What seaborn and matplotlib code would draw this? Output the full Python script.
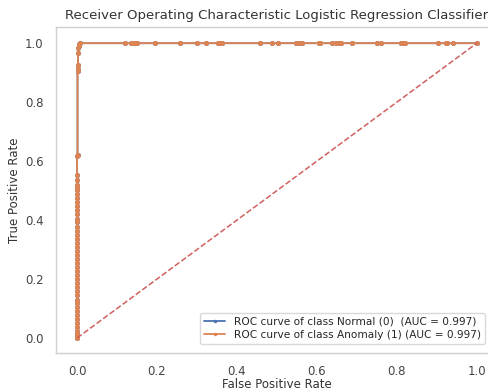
import matplotlib
matplotlib.use("Agg")
import matplotlib.pyplot as plt
import seaborn as sns
import pandas as pd

sns.set_theme(style="whitegrid", color_codes=True)

# ROC points (identical for both classes in this binary problem)
fpr = [0.0, 0.0, 0.0, 0.0, 0.0, 0.0, 0.0, 0.0, 0.0, 0.0,
       0.0, 0.0, 0.0, 0.0, 0.0, 0.0, 0.0, 0.0, 0.0, 0.0,
       0.0, 0.0, 0.0, 0.0, 0.0, 0.0, 0.0, 0.0, 0.0, 0.0,
       0.0, 0.0, 0.0, 0.0, 0.0, 0.0, 0.0, 0.0, 0.0, 0.0,
       0.0, 0.0, 0.0, 0.0,
       0.001, 0.001, 0.001, 0.002, 0.002, 0.003, 0.004, 0.005, 0.006,
       0.120, 0.136, 0.140, 0.145, 0.149, 0.195, 0.257, 0.301, 0.323,
       0.352, 0.357, 0.363, 0.458, 0.488, 0.502, 0.548, 0.556, 0.563,
       0.604, 0.608, 0.638, 0.648, 0.654, 0.660, 0.689, 0.751, 0.760,
       0.810, 0.815, 0.820, 0.903, 0.922, 0.926, 0.940, 1.000]
tpr = [0.000, 0.004, 0.012, 0.025, 0.038, 0.050, 0.063, 0.078, 0.090, 0.104,
       0.118, 0.130, 0.145, 0.160, 0.172, 0.186, 0.200, 0.214, 0.228, 0.241,
       0.255, 0.268, 0.282, 0.296, 0.310, 0.323, 0.337, 0.350, 0.364, 0.378,
       0.392, 0.405, 0.420, 0.434, 0.447, 0.461, 0.474, 0.488, 0.503, 0.512,
       0.520, 0.535, 0.552, 0.618,
       0.620, 0.905, 0.912, 0.926, 0.966, 0.982, 0.990, 0.996, 1.000,
       1.0, 1.0, 1.0, 1.0, 1.0, 1.0, 1.0, 1.0, 1.0,
       1.0, 1.0, 1.0, 1.0, 1.0, 1.0, 1.0, 1.0, 1.0,
       1.0, 1.0, 1.0, 1.0, 1.0, 1.0, 1.0, 1.0, 1.0,
       1.0, 1.0, 1.0, 1.0, 1.0, 1.0, 1.0, 1.0]

class_names = ["Normal (0) ", "Anomaly (1)"]
auc_values = [0.997, 0.997]
chance = [0.0, 1.0]

fig = plt.figure(figsize=(4.88, 3.91), dpi=100)
ax = fig.add_axes([0.115, 0.098, 0.903, 0.833])

palette = sns.color_palette("deep")
for i, (name, auc) in enumerate(zip(class_names, auc_values)):
    df = pd.DataFrame({"fpr": fpr, "tpr": tpr})
    sns.lineplot(data=df, x="fpr", y="tpr", ax=ax, sort=False, estimator=None,
                 marker="o", markersize=3.6, markeredgewidth=0,
                 color=palette[i], linewidth=1.3,
                 label=f"ROC curve of class {name} (AUC = {auc:.3f})")

ax.plot(chance, chance, "--", color="#d0605e", linewidth=1.1)

ax.set_xlim(-0.0525, 1.05)
ax.set_ylim(-0.05, 1.055)
ax.grid(False)
for s in ax.spines.values():
    s.set_color("#d0d0d0")
    s.set_linewidth(1.0)

ax.set_title("Receiver Operating Characteristic Logistic Regression Classifier",
             fontsize=9.5, color="#333333", pad=6)
ax.set_xlabel("False Positive Rate", fontsize=8.5, color="#333333", labelpad=0)
ax.set_ylabel("True Positive Rate", fontsize=8.5, color="#333333", labelpad=3)
ax.tick_params(axis="both", labelsize=8.5, colors="#444444", pad=3)
ax.set_xticks([0.0, 0.2, 0.4, 0.6, 0.8, 1.0])
ax.set_yticks([0.0, 0.2, 0.4, 0.6, 0.8, 1.0])

leg = ax.legend(loc="lower right", fontsize=7.6, frameon=True,
                bbox_to_anchor=(0.985, 0.01), borderpad=0.4, handlelength=2.0,
                labelspacing=0.3)
for line in leg.get_lines():
    line.set_markersize(2.5)
leg.get_frame().set_edgecolor("#d0d0d0")

fig.savefig("out.png", dpi=100)
